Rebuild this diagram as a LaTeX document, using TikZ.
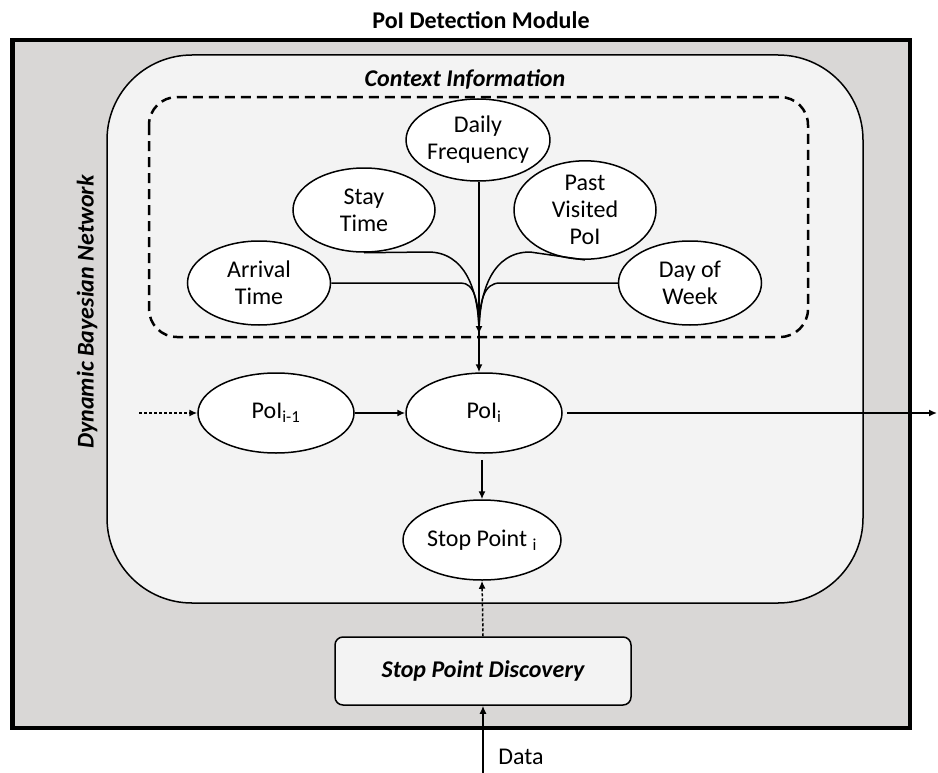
\documentclass[tikz,border=0pt]{standalone}
\usepackage{fontspec}
\setmainfont{Carlito}
\usetikzlibrary{shapes.geometric,arrows.meta}
\definecolor{outergray}{HTML}{D9D7D6}
\definecolor{innergray}{HTML}{F3F3F3}
\begin{document}
\begin{tikzpicture}[x=1bp,y=-1bp,
  font=\fontsize{24bp}{27bp}\selectfont,
  ell/.style={ellipse, draw=black, line width=1.5bp, fill=white, inner sep=0pt, align=center},
  conn/.style={line width=1.5bp},
  arr/.style={conn, -{Latex[length=8bp,width=7bp]}},
  dotarr/.style={arr, dash pattern=on 3bp off 2bp},
  bi/.style={font=\fontsize{24bp}{27bp}\selectfont\bfseries\itshape}
]
\useasboundingbox (0,0) rectangle (938,773);
% containers
\draw[line width=4.5bp, fill=outergray] (12.5,40) rectangle (910,728);
\draw[line width=1.5bp, fill=innergray, rounded corners=85bp] (107,55) rectangle (863,603);
\draw[line width=2.5bp, dash pattern=on 10bp off 6bp, rounded corners=28bp] (149,97) rectangle (808,337);
% labels
\node[font=\fontsize{24bp}{27bp}\selectfont\bfseries] (title) at (481,20) {PoI Detection Module};
\node[bi] (ctx) at (465,79) {Context Information};
\node[bi, rotate=90] (dbn) at (87,312) {Dynamic Bayesian Network};
% context nodes
\node[ell, minimum width=142bp, minimum height=82bp] (daily) at (478,140) {Daily\\Frequency};
\node[ell, minimum width=142bp, minimum height=84bp] (stay) at (364,210) {Stay\\Time};
\node[ell, minimum width=142bp, minimum height=84bp] (past) at (585,210) {Past\\Visited\\PoI};
\node[ell, minimum width=143bp, minimum height=84bp] (arr) at (259,283) {Arrival\\Time};
\node[ell, minimum width=143bp, minimum height=84bp] (dow) at (690,283) {Day of\\Week};
\coordinate (merge) at (479,334);
% network nodes
\node[ell, minimum width=156bp, minimum height=80bp] (poim) at (276,413) {PoI\textsubscript{i-1}};
\node[ell, minimum width=156bp, minimum height=80bp] (poii) at (484,413) {PoI\textsubscript{i}};
\node[ell, minimum width=158bp, minimum height=80bp] (stop) at (482,540) {Stop Point \textsubscript{i}};
\node[draw, line width=1.5bp, fill=innergray, rounded corners=8bp, minimum width=296bp, minimum height=68bp, bi] (spd) at (483,671) {Stop Point Discovery};
\node (data) at (521,757) {Data};
\coordinate (inl) at (139,413);
\coordinate (outr) at (937,413);
\coordinate (datain) at (483,773);
% context connectors
\draw[conn] (stay.south) -- (428,252) .. controls (465,252) and (479,290) .. (merge);
\draw[conn] (arr.east) -- (461,283) .. controls (474,283) and (479,300) .. (merge);
\draw[conn] (past.south) -- (530,252) .. controls (493,252) and (479,290) .. (merge);
\draw[conn] (dow.west) -- (500,283) .. controls (484,283) and (479,300) .. (merge);
\draw[arr] (daily.south -| merge) -- (merge);
\draw[arr] (merge) -- (poii.north -| merge);
% network connectors
\draw[dotarr] (inl) -- (poim.west);
\draw[arr] (poim.east) -- (poii.west);
\draw[arr, shorten <=6bp] (poii.south -| stop) -- (stop.north);
\draw[arr, shorten <=4bp] (poii.east) -- (outr);
\draw[dotarr] (spd.north) -- (stop.south);
\draw[arr] (datain) -- (spd.south);
\end{tikzpicture}
\end{document}
